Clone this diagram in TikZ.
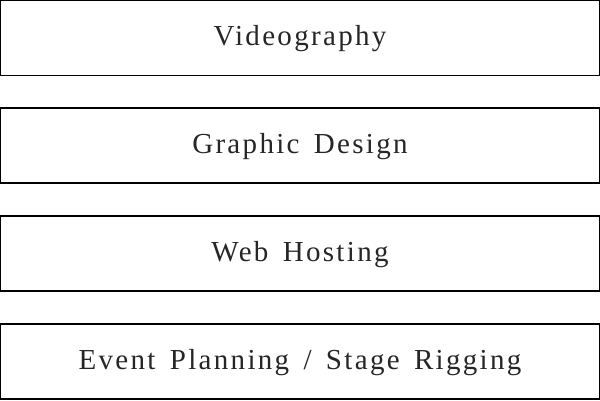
\documentclass[tikz,border=0pt]{standalone}
\usepackage{fontspec}
\setmainfont{Liberation Serif}[LetterSpace=8,WordSpace=1.5]
\begin{document}
\begin{tikzpicture}[x=1pt,y=1pt,
  bar/.style={draw=black,line width=1.1pt,minimum width=599pt,minimum height=75pt,inner sep=0pt,font=\fontsize{29}{33}\selectfont,text=black!85,text height=20pt,text depth=4pt}]
\useasboundingbox (0,0) rectangle (600,400);
\node[bar] (v) at (300,362) {Videography};
\node[bar] (g) at (300,254.5) {Graphic Design};
\node[bar] (w) at (300,146.5) {Web Hosting};
\node[bar] (e) at (300,38.5) {Event Planning / Stage Rigging};
\end{tikzpicture}
\end{document}
